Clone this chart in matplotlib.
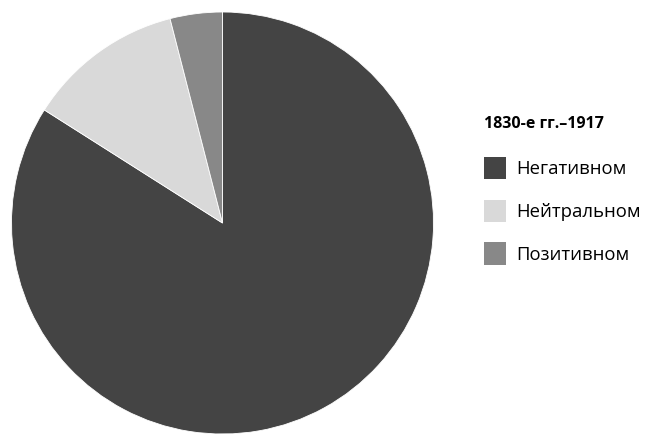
import matplotlib.pyplot as plt

labels = ["Негативном", "Нейтральном", "Позитивном"]
values = [84, 12, 4]
colors = ["#444444", "#d9d9d9", "#888888"]
legend_title = "1830-е гг.–1917"

plt.rcParams["font.family"] = ["Open Sans", "DejaVu Sans"]

fig = plt.figure(figsize=(6.46, 4.34), dpi=100)
ax = fig.add_axes([11.5 / 646, 0.0, 422 / 646, 422 / 434])

wedges, _ = ax.pie(values, colors=colors, startangle=90, counterclock=False,
                   wedgeprops=dict(edgecolor="white", linewidth=0.6))
ax.set_aspect("equal")
ax.set_xlim(-1.0, 1.0)
ax.set_ylim(-1.0, 1.0)

leg = fig.legend(wedges, labels, title=legend_title, loc="upper left",
                 bbox_to_anchor=(469 / 646, 1 - 101 / 434),
                 frameon=False, fontsize=13.3,
                 title_fontproperties=dict(weight="bold", size=11.5),
                 handlelength=1.22, handleheight=1.5, handletextpad=0.55,
                 labelspacing=1.1, borderpad=0.3)
leg._legend_box.align = "left"
# a bit more room between the title and the first row
leg._legend_box.sep = 1.35 * 13.3
for h in leg.legend_handles:
    h.set_edgecolor("none")

fig.savefig("out.png", dpi=100)
